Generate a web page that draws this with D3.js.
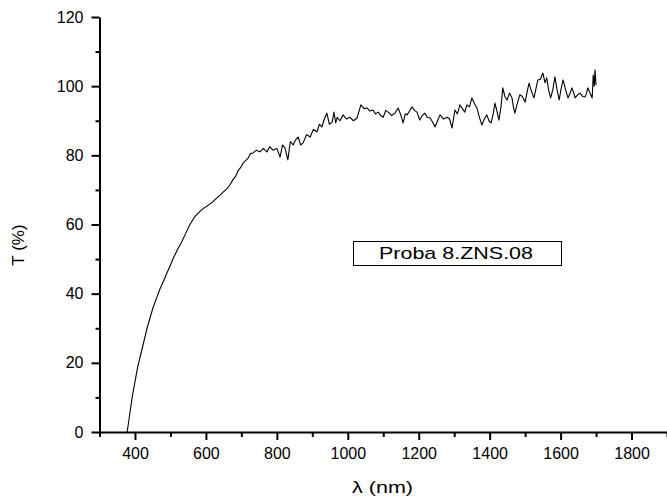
<!DOCTYPE html>
<html>
<head>
<meta charset="utf-8">
<script src="https://cdn.jsdelivr.net/npm/d3@7"></script>
<style>
  body { margin: 0; background: #fff; }
  svg { display: block; font-family: "Liberation Sans", Arial, sans-serif; }
  .axis path, .axis line { stroke: #000; }
  .axis text { fill: #000; font-size: 16px; }
</style>
</head>
<body>
<svg id="chart" width="667" height="497"></svg>
<script>
// wavelength (nm) and transmittance (%)
const wavelength = [
  378, 385, 392, 400, 408, 420, 434, 451, 462, 471, 480, 490, 499, 507, 521, 532, 541,
  555, 569, 583, 595, 603, 610, 620, 631, 640, 650, 659, 668, 676, 684, 691, 698,
  705, 712, 719, 726, 733, 742, 752, 762, 772, 780, 789, 800, 809, 816, 823, 831,
  838, 846, 853, 860, 867, 874, 884, 894, 903, 913, 920, 927, 934, 941, 948, 956,
  961, 966, 970, 978, 987, 996, 1006, 1016, 1026, 1037, 1046, 1054, 1062, 1071, 1078, 1086,
  1093, 1100, 1107, 1114, 1124, 1133, 1142, 1150, 1156, 1162, 1167, 1174, 1181, 1188, 1195, 1203,
  1210, 1217, 1224, 1232, 1240, 1246, 1253, 1260, 1270, 1280, 1287, 1294, 1302, 1309, 1316, 1323,
  1330, 1336, 1343, 1350, 1357, 1364, 1371, 1378, 1385, 1392, 1398, 1404, 1410, 1415, 1420, 1426,
  1432, 1437, 1443, 1449, 1456, 1463, 1467, 1471, 1478, 1485, 1492, 1500, 1505, 1511, 1518, 1525,
  1530, 1536, 1543, 1550, 1556, 1561, 1566, 1572, 1578, 1584, 1590, 1596, 1601, 1607, 1614, 1621,
  1627, 1632, 1637, 1641, 1648, 1655, 1662, 1669, 1673, 1677, 1683, 1689, 1692, 1695, 1697, 1700
];
const transmittance = [
  0, 5, 10, 14.5, 19, 24, 30, 36, 39, 41.5, 43.5, 46, 48, 50, 53, 55, 57,
  60, 62.3, 63.8, 64.8, 65.3, 65.9, 66.6, 67.7, 68.5, 69.5, 70.3, 71.5, 72.9, 74, 75.6, 76.5,
  77.8, 78.5, 79.2, 80.5, 80.7, 81.5, 81, 82, 81, 82.5, 81.5, 82, 79.5, 83, 82.1, 78.7,
  84, 83, 84.5, 85.3, 83, 83.6, 86, 85.3, 87.5, 86.8, 89, 88.2, 90.5, 92.2, 89, 89.6,
  92.5, 89.4, 91, 90, 91.7, 90.5, 91, 90, 90.8, 94.6, 93.5, 93.7, 92.8, 93.1, 92, 92.5,
  91.5, 91, 93, 92.5, 91.5, 92.2, 93.7, 91.5, 89.4, 92, 91.7, 92.8, 94, 93, 92.5, 90.2,
  91.5, 92.2, 91, 90.8, 89.5, 88.2, 90, 91.7, 90.5, 91, 90.5, 87.9, 93.1, 92, 94.6, 93.5,
  92.5, 94.6, 94, 96.6, 95, 93.7, 91, 88.8, 90.5, 91.7, 90, 89.4, 92, 95.1, 93, 90.2,
  94, 99.5, 97, 96, 98, 96.6, 94, 92.2, 95, 97.5, 97, 95.4, 98, 100.9, 98.5, 96.6,
  99, 101.8, 102, 103.8, 101, 102.4, 99, 96.6, 99, 102.7, 99, 96, 99, 101.8, 99, 96.6,
  98, 99.5, 98, 96.6, 97.5, 98, 97, 96.9, 98, 99.5, 98, 96.6, 103.2, 100, 104.7, 100.3
];

const xMajorTicks = [400, 600, 800, 1000, 1200, 1400, 1600, 1800];
const xMinorTicks = [300, 500, 700, 900, 1100, 1300, 1500, 1700, 1900];
const yMajorTicks = [0, 20, 40, 60, 80, 100, 120];
const yMinorTicks = [10, 30, 50, 70, 90, 110];
const legendLabel = "Proba 8.ZNS.08";

const svg = d3.select("#chart");

const x = d3.scaleLinear().domain([300, 1900]).range([99.5, 667]);
const y = d3.scaleLinear().domain([0, 120]).range([432, 17]);

// minor ticks first, majors with labels on top
svg.append("g")
  .attr("class", "axis")
  .attr("transform", "translate(0," + y(0) + ")")
  .call(d3.axisBottom(x).tickValues(xMinorTicks).tickSize(5).tickFormat(""))
  .call((g) => g.select(".domain").remove())
  .selectAll("line").attr("stroke-width", 2);

svg.append("g")
  .attr("class", "axis")
  .attr("transform", "translate(" + x(300) + ",0)")
  .call(d3.axisLeft(y).tickValues(yMinorTicks).tickSize(4).tickFormat(""))
  .call((g) => g.select(".domain").remove())
  .selectAll("line").attr("stroke-width", 2);

const xAxis = svg.append("g")
  .attr("class", "axis")
  .attr("transform", "translate(0," + y(0) + ")")
  .call(d3.axisBottom(x).tickValues(xMajorTicks).tickFormat(d3.format("d"))
    .tickSize(8).tickSizeOuter(0).tickPadding(8));
xAxis.select(".domain").attr("stroke-width", 2);
xAxis.selectAll("line").attr("stroke-width", 2);

const yAxis = svg.append("g")
  .attr("class", "axis")
  .attr("transform", "translate(" + x(300) + ",0)")
  .call(d3.axisLeft(y).tickValues(yMajorTicks).tickFormat(d3.format("d"))
    .tickSize(8).tickSizeOuter(0).tickPadding(8));
yAxis.select(".domain").attr("stroke-width", 2);
yAxis.selectAll("line").attr("stroke-width", 2);

// spectrum
const line = d3.line()
  .x((d, i) => x(wavelength[i]))
  .y((d) => y(d));

svg.append("path")
  .datum(transmittance)
  .attr("fill", "none")
  .attr("stroke", "#000")
  .attr("stroke-width", 1.1)
  .attr("stroke-linejoin", "round")
  .attr("d", line);

// axis titles
svg.append("text")
  .attr("x", 352)
  .attr("y", 493)
  .attr("font-size", 17)
  .attr("textLength", 61)
  .attr("lengthAdjust", "spacingAndGlyphs")
  .text("λ (nm)");

svg.append("text")
  .attr("transform", "translate(24,245) rotate(-90)")
  .attr("text-anchor", "middle")
  .attr("font-size", 17)
  .text("T (%)");

// legend box
svg.append("rect")
  .attr("x", 353.5)
  .attr("y", 241.5)
  .attr("width", 208)
  .attr("height", 24)
  .attr("fill", "#fff")
  .attr("stroke", "#000")
  .attr("stroke-width", 1);

svg.append("text")
  .attr("x", 379)
  .attr("y", 259)
  .attr("font-size", 17)
  .attr("textLength", 154)
  .attr("lengthAdjust", "spacingAndGlyphs")
  .text(legendLabel);
</script>
</body>
</html>
